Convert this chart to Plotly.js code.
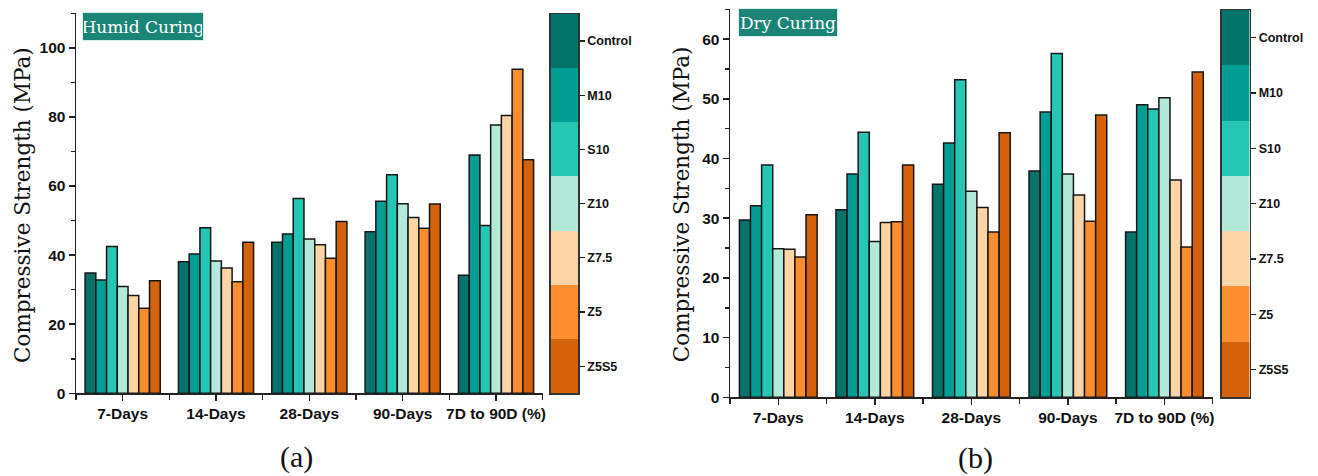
<!DOCTYPE html>
<html>
<head>
<meta charset="utf-8">
<script src="https://cdn.plot.ly/plotly-3.0.1.min.js"></script>
<style>
  html, body { margin: 0; padding: 0; background: #ffffff; }
  #chart { width: 1318px; height: 476px; }
</style>
</head>
<body>
<div id="chart"></div>
<script>
// Test ages (x categories) and mix designations
const categories = ['7-Days', '14-Days', '28-Days', '90-Days', '7D to 90D (%)'];
const mixes = ['Control', 'M10', 'S10', 'Z10', 'Z7.5', 'Z5', 'Z5S5'];
const mixColors = ['#04736A', '#029E93', '#26C6B5', '#B4E8D9', '#FDD4A6', '#FD8E30', '#D4620A'];

// Compressive strength (MPa), humid curing
const humidControl = [34.8, 38.1, 43.7, 46.8, 34.2];
const humidM10     = [32.8, 40.3, 46.1, 55.6, 69.0];
const humidS10     = [42.5, 47.9, 56.4, 63.3, 48.6];
const humidZ10     = [30.9, 38.3, 44.7, 54.9, 77.7];
const humidZ75     = [28.3, 36.3, 43.0, 50.9, 80.4];
const humidZ5      = [24.6, 32.3, 39.1, 47.8, 93.8];
const humidZ5S5    = [32.6, 43.7, 49.7, 54.8, 67.6];

// Compressive strength (MPa), dry curing
const dryControl = [29.7, 31.4, 35.7, 37.9, 27.7];
const dryM10     = [32.1, 37.4, 42.6, 47.8, 49.0];
const dryS10     = [38.9, 44.4, 53.2, 57.6, 48.3];
const dryZ10     = [24.9, 26.1, 34.5, 37.4, 50.2];
const dryZ75     = [24.8, 29.3, 31.8, 33.9, 36.4];
const dryZ5      = [23.5, 29.4, 27.7, 29.5, 25.2];
const dryZ5S5    = [30.6, 38.9, 44.3, 47.3, 54.5];

const humidSeries = [humidControl, humidM10, humidS10, humidZ10, humidZ75, humidZ5, humidZ5S5];
const drySeries = [dryControl, dryM10, dryS10, dryZ10, dryZ75, dryZ5, dryZ5S5];

const W = 1318, H = 476;
const px = v => v / W;          // horizontal pixel -> paper
const py = v => 1 - v / H;      // vertical pixel (from top) -> paper

const xpos = categories.map((_, i) => i);
const boundaries = [-0.5, 0.5, 1.5, 2.5, 3.5, 4.5];

const traces = [];
function addBars(series, xa, ya) {
  series.forEach((vals, i) => {
    traces.push({
      type: 'bar',
      name: mixes[i],
      x: xpos,
      y: vals,
      xaxis: xa,
      yaxis: ya,
      showlegend: false,
      hoverinfo: 'y+name',
      marker: { color: mixColors[i], line: { color: '#161616', width: 1.5 } }
    });
  });
}
addBars(humidSeries, 'x', 'y');
addBars(drySeries, 'x2', 'y2');

// Discrete colour keys beside each panel
function addKey(xa, ya) {
  traces.push({
    type: 'heatmap',
    x: [0],
    y: mixes,
    z: mixes.map((_, i) => [i]),
    zmin: 0,
    zmax: mixes.length - 1,
    colorscale: mixColors.map((c, i) => [i / (mixes.length - 1), c]),
    showscale: false,
    hoverinfo: 'y',
    xaxis: xa,
    yaxis: ya
  });
}
addKey('x3', 'y3');
addKey('x4', 'y4');

const tickFont = { family: 'Liberation Sans, Arial, sans-serif', size: 15.5, color: '#111', weight: 'bold' };
const keyFont = { family: 'Liberation Sans, Arial, sans-serif', size: 12.5, color: '#111', weight: 'bold' };
const serif = 'DejaVu Serif, Liberation Serif, serif';

function barX(domain) {
  return {
    domain: domain,
    range: [-0.5, 4.5],
    tickmode: 'array',
    tickvals: xpos,
    ticktext: categories,
    ticks: 'outside', ticklen: 6, tickwidth: 1.5, tickcolor: '#222',
    minor: { tickmode: 'array', tickvals: boundaries, ticks: 'outside', ticklen: 5, tickwidth: 1.5, tickcolor: '#222' },
    showline: true, linewidth: 1.5, linecolor: '#222',
    showgrid: false, zeroline: false,
    tickfont: tickFont,
    fixedrange: true
  };
}
function barY(domain, top, major, minorStep, anchor) {
  return {
    domain: domain,
    anchor: anchor,
    range: [0, top],
    tickmode: 'linear', tick0: 0, dtick: major,
    ticks: 'outside', ticklen: 6, tickwidth: 1.5, tickcolor: '#222',
    minor: { dtick: minorStep, tick0: 0, ticks: 'outside', ticklen: 4, tickwidth: 1.5, tickcolor: '#222' },
    showline: true, linewidth: 1.5, linecolor: '#222',
    showgrid: false, zeroline: false,
    tickfont: tickFont,
    fixedrange: true
  };
}
function keyX(domain, anchor) {
  return {
    domain: domain, anchor: anchor, range: [-0.5, 0.5],
    showticklabels: false, ticks: '', showgrid: false, zeroline: false,
    showline: true, mirror: true, linewidth: 1.5, linecolor: '#333', fixedrange: true
  };
}
function keyY(domain, anchor) {
  return {
    domain: domain, anchor: anchor, type: 'category', autorange: 'reversed',
    side: 'right', ticks: 'outside', ticklen: 5, tickwidth: 1.2, tickcolor: '#222',
    showgrid: false, zeroline: false,
    showline: true, mirror: true, linewidth: 1.5, linecolor: '#333',
    tickfont: keyFont, fixedrange: true
  };
}

const layout = {
  width: W, height: H,
  margin: { l: 0, r: 0, t: 0, b: 0 },
  paper_bgcolor: '#ffffff',
  plot_bgcolor: 'rgba(0,0,0,0)',
  barmode: 'group',
  bargap: 0.195,
  bargroupgap: 0,
  showlegend: false,

  xaxis: Object.assign(barX([px(76), px(542.7)]), { anchor: 'y' }),
  yaxis: barY([py(393.3), py(13.3)], 110, 20, 10, 'x'),
  xaxis2: Object.assign(barX([px(730), px(1212.7)]), { anchor: 'y2' }),
  yaxis2: barY([py(397.3), py(9.3)], 65, 10, 5, 'x2'),

  xaxis3: keyX([px(550.7), px(578.3)], 'y3'),
  yaxis3: keyY([py(393.3), py(14)], 'x3'),
  xaxis4: keyX([px(1221.7), px(1249.7)], 'y4'),
  yaxis4: keyY([py(397.3), py(10)], 'x4'),

  annotations: [
    {
      text: 'Humid Curing', xref: 'paper', yref: 'paper',
      x: px(81.7), y: py(12.3), xanchor: 'left', yanchor: 'top',
      showarrow: false, bgcolor: '#1A8577', bordercolor: '#d8f0ec', borderwidth: 1,
      width: 118, height: 25, borderpad: 1,
      font: { family: serif, size: 17, color: '#ffffff' }
    },
    {
      text: 'Dry Curing', xref: 'paper', yref: 'paper',
      x: px(737.7), y: py(8.3), xanchor: 'left', yanchor: 'top',
      showarrow: false, bgcolor: '#1A8577', bordercolor: '#d8f0ec', borderwidth: 1,
      width: 96, height: 25, borderpad: 1,
      font: { family: serif, size: 17, color: '#ffffff' }
    },
    {
      text: 'Compressive Strength (MPa)', xref: 'paper', yref: 'paper',
      x: px(22), y: py(205), xanchor: 'center', yanchor: 'middle',
      textangle: -90, showarrow: false,
      font: { family: serif, size: 21.5, color: '#111' }
    },
    {
      text: 'Compressive Strength (MPa)', xref: 'paper', yref: 'paper',
      x: px(681.7), y: py(204.5), xanchor: 'center', yanchor: 'middle',
      textangle: -90, showarrow: false,
      font: { family: serif, size: 21.5, color: '#111' }
    },
    {
      text: '(a)', xref: 'paper', yref: 'paper',
      x: px(296), y: py(457), xanchor: 'center', yanchor: 'middle',
      showarrow: false, font: { family: 'Liberation Serif, Times New Roman, serif', size: 30, color: '#111' }
    },
    {
      text: '(b)', xref: 'paper', yref: 'paper',
      x: px(976), y: py(458), xanchor: 'center', yanchor: 'middle',
      showarrow: false, font: { family: 'Liberation Serif, Times New Roman, serif', size: 30, color: '#111' }
    }
  ]
};

Plotly.newPlot('chart', traces, layout, { displayModeBar: false, staticPlot: true });
</script>
</body>
</html>
